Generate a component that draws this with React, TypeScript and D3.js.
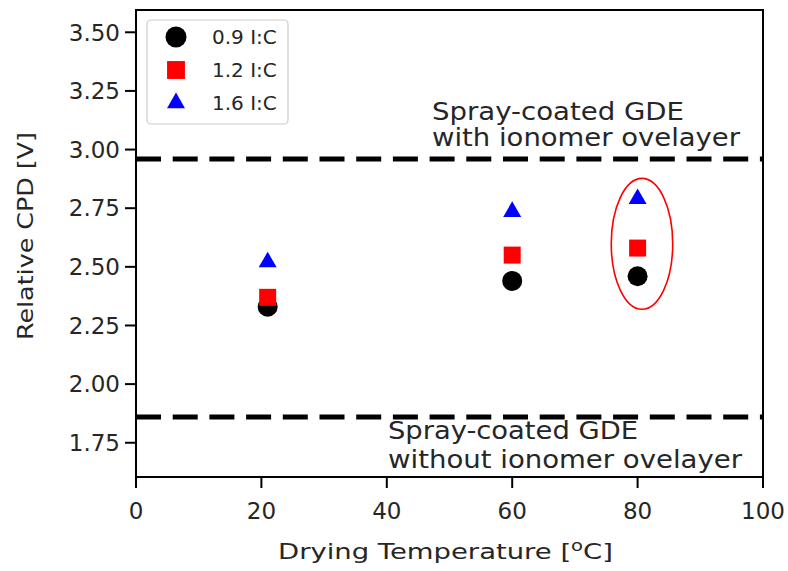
import * as d3 from "d3";

const temps = [21, 60, 80];
const ic09 = [2.33, 2.44, 2.46];
const ic12 = [2.37, 2.55, 2.58];
const ic16 = [2.52, 2.735, 2.79];
const seriesNames = ["0.9 I:C", "1.2 I:C", "1.6 I:C"];
const withIonomer = 2.96;
const withoutIonomer = 1.86;
const xTicks = [0, 20, 40, 60, 80, 100];
const yTicks = [1.75, 2.0, 2.25, 2.5, 2.75, 3.0, 3.25, 3.5];

const W = 788;
const H = 571;
const m = { left: 136, right: 25, top: 10, bottom: 94 };
const FONT = "DejaVu Sans, sans-serif";
const INK = "#262626";

export default function App() {
  const x = d3.scaleLinear([0, 100], [m.left, W - m.right]);
  const y = d3.scaleLinear([1.604, 3.595], [H - m.bottom, m.top]);
  const fmt = d3.format(".2f");
  const tri = d3.symbol(d3.symbolTriangle, 140)() as string;
  const sq = d3.symbol(d3.symbolSquare, 289)() as string;
  const triL = d3.symbol(d3.symbolTriangle, 140)() as string;
  const sqL = d3.symbol(d3.symbolSquare, 320)() as string;

  const series = [
    { vals: ic09, color: "black", kind: "circle" },
    { vals: ic12, color: "red", kind: "square" },
    { vals: ic16, color: "blue", kind: "triangle" },
  ];

  const marker = (kind: string, color: string, cx: number, cy: number, key: string, legend = false) => {
    if (kind === "circle") return <circle key={key} cx={cx} cy={cy} r={legend ? 10.5 : 10} fill={color} />;
    const p = kind === "square" ? (legend ? sqL : sq) : legend ? triL : tri;
    return <path key={key} d={p} transform={`translate(${cx},${cy})`} fill={color} />;
  };

  const x0 = x(0), x1 = x(100), yb = y(1.604), yt = y(3.595);

  return (
    <svg width={W} height={H} style={{ position: "absolute", left: 0, top: 0, background: "white" }} fontFamily={FONT}>
      <defs>
        <clipPath id="plot">
          <rect x={x0} y={yt} width={x1 - x0} height={yb - yt} />
        </clipPath>
      </defs>

      {/* reference lines */}
      <g clipPath="url(#plot)" stroke="black" strokeWidth={5} strokeDasharray="25 11.7">
        <line x1={x0} x2={x1} y1={y(withIonomer)} y2={y(withIonomer)} />
        <line x1={x0} x2={x1} y1={y(withoutIonomer)} y2={y(withoutIonomer)} />
      </g>

      <g fontSize={24} fill={INK}>
        <text x={432} y={120} textLength={252} lengthAdjust="spacingAndGlyphs">Spray-coated GDE</text>
        <text x={432} y={146} textLength={308} lengthAdjust="spacingAndGlyphs">with ionomer ovelayer</text>
        <text x={388} y={439} textLength={250} lengthAdjust="spacingAndGlyphs">Spray-coated GDE</text>
        <text x={388} y={468} textLength={354} lengthAdjust="spacingAndGlyphs">without ionomer ovelayer</text>
      </g>

      {/* points */}
      {series.map((s, si) =>
        temps.map((t, i) => marker(s.kind, s.color, x(t), y(s.vals[i]), `${si}-${i}`))
      )}

      <ellipse cx={x(80.7)} cy={y(2.598)} rx={x(80.7 + 4.9) - x(80.7)} ry={y(2.598) - y(2.598 + 0.279)}
        fill="none" stroke="red" strokeWidth={1.6} />

      {/* frame */}
      <rect x={x0} y={yt} width={x1 - x0} height={yb - yt} fill="none" stroke="black" strokeWidth={2} />

      {/* y axis */}
      {yTicks.map((v) => (
        <g key={v}>
          <line x1={x0 - 11} x2={x0} y1={y(v)} y2={y(v)} stroke="black" strokeWidth={2} />
          <text x={x0 - 16} y={y(v)} dy="0.36em" textAnchor="end" fontSize={23} fill={INK}>{fmt(v)}</text>
        </g>
      ))}
      {/* x axis */}
      {xTicks.map((v) => (
        <g key={v}>
          <line x1={x(v)} x2={x(v)} y1={yb} y2={yb + 11} stroke="black" strokeWidth={2} />
          <text x={x(v)} y={yb + 42} textAnchor="middle" fontSize={23} fill={INK}>{v}</text>
        </g>
      ))}

      <text x={278} y={559} fontSize={21} fill={INK} textLength={335} lengthAdjust="spacingAndGlyphs">
        Drying Temperature [<tspan dy={-8} fontSize={15}>o</tspan><tspan dy={8}>C]</tspan>
      </text>
      <text transform={`translate(33,236) rotate(-90)`} textAnchor="middle" fontSize={21} fill={INK}
        textLength={208} lengthAdjust="spacingAndGlyphs">
        Relative CPD [V]
      </text>

      {/* legend */}
      <g>
        <rect x={147} y={20} width={141} height={104} rx={4} fill="white" stroke="#cccccc" strokeWidth={1.2} />
        {series.map((s, i) => (
          <g key={i}>
            {marker(s.kind, s.color, 176, 37 + i * 33, `l${i}`, true)}
            <text x={212} y={37 + i * 33} dy="0.36em" fontSize={20} fill={INK}>{seriesNames[i]}</text>
          </g>
        ))}
      </g>
    </svg>
  );
}
